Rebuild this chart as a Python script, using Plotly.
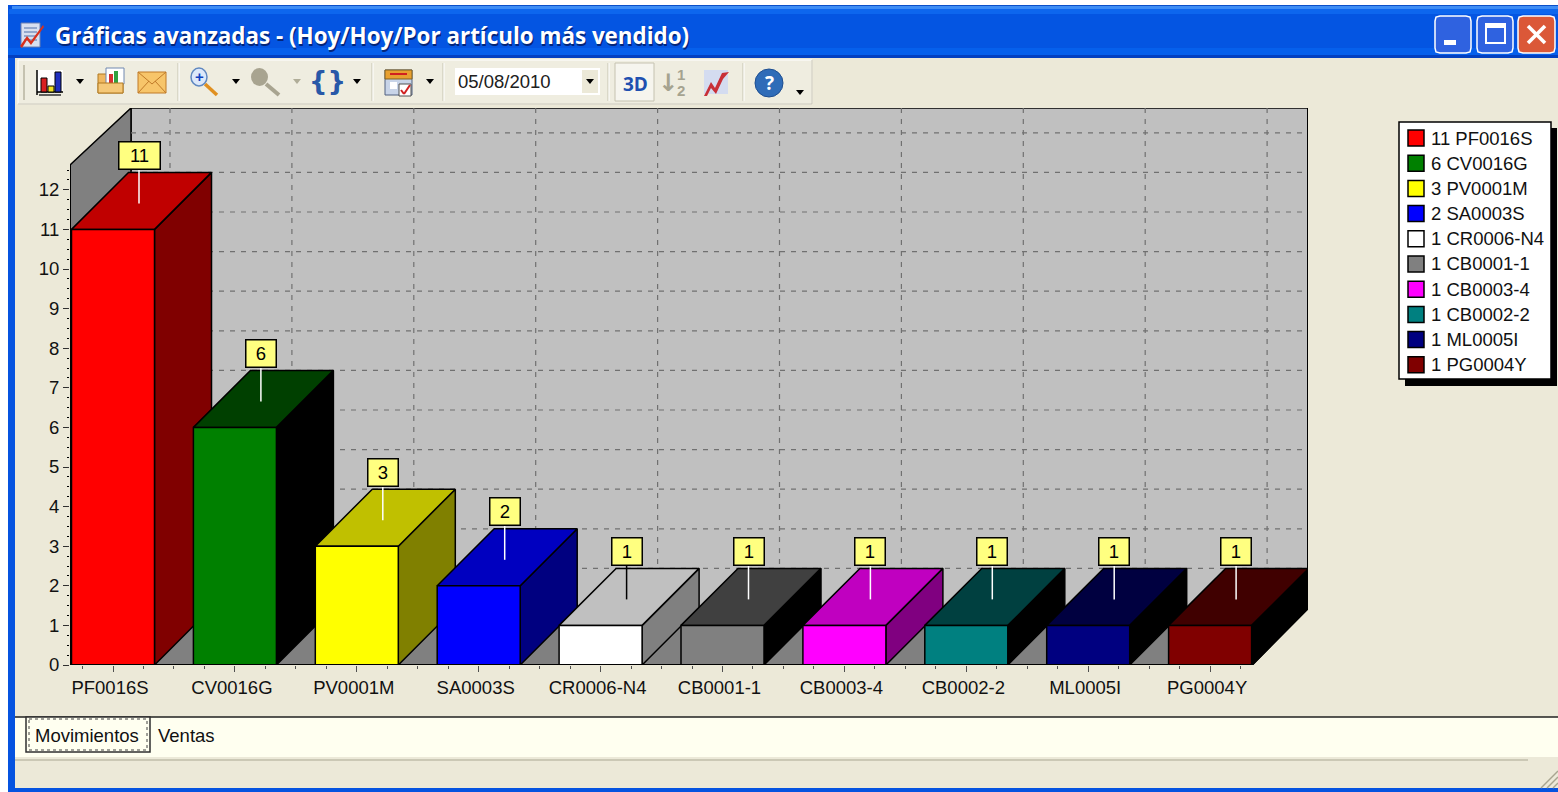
import plotly.graph_objects as go

categories = ["PF0016S", "CV0016G", "PV0001M", "SA0003S", "CR0006-N4",
              "CB0001-1", "CB0003-4", "CB0002-2", "ML0005I", "PG0004Y"]
values = [11, 6, 3, 2, 1, 1, 1, 1, 1, 1]
face_colors = ["#FF0000", "#008000", "#FFFF00", "#0000FF", "#FFFFFF",
               "#808080", "#FF00FF", "#008080", "#000080", "#800000"]
top_colors = ["#C00000", "#004000", "#C0C000", "#0000C0", "#C0C0C0",
              "#404040", "#C000C0", "#004040", "#000040", "#400000"]
side_colors = ["#800000", "#000000", "#808000", "#000080", "#808080",
               "#000000", "#800080", "#000000", "#000000", "#000000"]
y_ticks = list(range(0, 13))

W, H = 1558, 792
# chart scale
X0_PX, X1_PX = 70, 1308
Y0_PX, Y1_PX = 665, 108
X_UNIT, Y_UNIT = 121.9, 39.6
X_FIRST = 113
x_min = (X0_PX - X_FIRST) / X_UNIT
x_max = (X1_PX - X_FIRST) / X_UNIT
y_max = (Y0_PX - Y1_PX) / Y_UNIT
DX = 57 / X_UNIT
DY = 57 / Y_UNIT
WALL_DX = 61 / X_UNIT
HALF = 41.5 / X_UNIT
x_front_end = (1252 - X_FIRST) / X_UNIT
wall_top_front = (Y0_PX - 165) / Y_UNIT

FONT = "Liberation Sans"
shapes, notes = [], []


def px(x):
    return x / W


def py(y):
    return 1 - y / H


def rect(x0, y0, x1, y1, fill, line=None, lw=1, layer="below"):
    shapes.append(dict(type="rect", xref="paper", yref="paper", x0=px(x0), x1=px(x1), y0=py(y0), y1=py(y1),
                       fillcolor=fill, line=dict(color=line or "rgba(0,0,0,0)", width=lw if line else 0), layer=layer))


def seg(x0, y0, x1, y1, color, lw=1, layer="above"):
    shapes.append(dict(type="line", xref="paper", yref="paper", x0=px(x0), x1=px(x1), y0=py(y0), y1=py(y1),
                       line=dict(color=color, width=lw), layer=layer))


def circle(x0, y0, x1, y1, fill, line=None, lw=1):
    shapes.append(dict(type="circle", xref="paper", yref="paper", x0=px(x0), x1=px(x1), y0=py(y0), y1=py(y1),
                       fillcolor=fill, line=dict(color=line or "rgba(0,0,0,0)", width=lw if line else 0), layer="above"))


def poly(points, fill, line=None, lw=1):
    d = "M " + " L ".join(f"{px(a):.5f},{py(b):.5f}" for a, b in points) + " Z"
    shapes.append(dict(type="path", xref="paper", yref="paper", path=d, fillcolor=fill,
                       line=dict(color=line or "rgba(0,0,0,0)", width=lw if line else 0), layer="above"))


def arrow(x, y, color="#000000", s=4):
    poly([(x - s, y - 2), (x + s, y - 2), (x, y + 3)], color)


def text(x, y, s, size=18.5, color="#000000", anchor="left", family=FONT, bold=False):
    notes.append(dict(xref="paper", yref="paper", x=px(x), y=py(y), text=f"<b>{s}</b>" if bold else s,
                      showarrow=False, xanchor=anchor, yanchor="middle",
                      font=dict(family=family, size=size, color=color), borderpad=0))


def button(x0, y0, x1, y1, fill):
    r = 5
    pts = [(x0 + r, y0), (x1 - r, y0), (x1 - 1, y0 + 1), (x1, y0 + r), (x1, y1 - r), (x1 - 1, y1 - 1), (x1 - r, y1),
           (x0 + r, y1), (x0 + 1, y1 - 1), (x0, y1 - r), (x0, y0 + r), (x0 + 1, y0 + 1)]
    poly(pts, fill, "#FFFFFF", 1.5)


# ---- window frame
BLUE = "#0553E0"
rect(8, 5, W, 792, BLUE)
rect(15, 58, W, 788, "#ECE9D8")
strips = [(5, 6, 18, "#0A4FC8"), (6, 9, 12, "#3E8DF5"), (9, 14, 9, "#0D66EE"), (14, 48, 8, "#0455E2"),
          (48, 55, 8, "#0660EC"), (55, 58, 8, "#0340C0")]
for y0, y1, xs, c in strips:
    rect(xs, y0, W, y1, c)

# window caption
rect(21, 23, 40, 47, "#D8E0F0", "#6A7FB0")
for yy in (28, 32, 36, 40):
    seg(24, yy, 37, yy, "#5070A8", 1)
poly([(20, 46), (27, 36), (31, 41), (43, 25), (44, 27), (31, 45), (27, 40), (22, 48)], "#D8301C")
text(55, 37, "Gráficas avanzadas - (Hoy/Hoy/Por artículo más vendido)", size=22.4, color="#03257A",
     family="Open Sans", bold=True)
text(54, 36, "Gráficas avanzadas - (Hoy/Hoy/Por artículo más vendido)", size=22.4, color="#FFFFFF",
     family="Open Sans", bold=True)

button(1435, 16, 1471, 53, "#2F62E0")
rect(1444, 40, 1456, 45, "#FFFFFF", layer="above")
button(1477, 16, 1513, 53, "#2F62E0")
rect(1486, 24, 1505, 43, "rgba(0,0,0,0)", "#FFFFFF", 2, layer="above")
rect(1486, 24, 1505, 28, "#FFFFFF", layer="above")
button(1518, 16, 1555, 53, "#DB5838")
seg(1528, 26, 1545, 43, "#FFFFFF", 3.5)
seg(1545, 26, 1528, 43, "#FFFFFF", 3.5)

# ---- toolbar
rect(15, 59, W, 106, "#ECE9D8")
rect(18, 60, 812, 104, "#EFEDE0", "#FFFFFF", 1)
seg(18, 104, 812, 104, "#C5C2B0", 1, layer="below")
seg(812, 60, 812, 104, "#C5C2B0", 1, layer="below")
seg(24, 65, 24, 100, "#C5C2B0", 2)
for sx in (178, 372, 443, 608, 743):
    seg(sx, 63, sx, 101, "#C5C2B0", 1)
    seg(sx + 1, 63, sx + 1, 101, "#FFFFFF", 1)
# chart icon
rect(37, 70, 63, 92, "#FFFFFF")
seg(37, 92, 63, 92, "#000000", 1.5)
seg(37, 70, 37, 95, "#000000", 1.5)
for a, b, t, c in [(41, 47, 78, "#D82020"), (48, 54, 86, "#F0E020"), (55, 61, 72, "#2030C0")]:
    rect(a, t, b, 92, c, "#000000", 1, layer="above")
seg(39, 95, 61, 95, "#303030", 1.5)
arrow(80, 81)
# folder
rect(98, 74, 123, 93, "#F0B860", "#B07820", 1, layer="above")
rect(106, 68, 124, 84, "#FFFFFF", "#7088B0", 1, layer="above")
rect(109, 74, 113, 83, "#D83030", layer="above")
rect(114, 71, 118, 83, "#30A040", layer="above")
rect(98, 83, 123, 93, "#F5C878", "#B07820", 1, layer="above")
# envelope
rect(138, 72, 166, 93, "#F7C56A", "#C07A28", 1, layer="above")
seg(138, 72, 152, 84, "#C07A28", 1)
seg(166, 72, 152, 84, "#C07A28", 1)
seg(138, 93, 149, 81, "#C07A28", 1)
seg(166, 93, 155, 81, "#C07A28", 1)
# magnifiers
seg(205, 84, 217, 95, "#E09020", 3.5)
circle(191, 68, 207, 86, "#DCE8FA", "#6088C0", 1.5)
text(199, 77, "+", size=15, color="#1040C0", anchor="center", bold=True)
arrow(236, 81)
seg(266, 84, 279, 95, "#A8A490", 4)
circle(251, 68, 268, 86, "#A8A490")
arrow(297, 81, "#B0AD98")
text(327, 81, "{}", size=26, color="#2858A8", anchor="center", family="DejaVu Sans", bold=True)
arrow(357, 81)
# calendar
rect(385, 70, 412, 95, "#C8D4E8", "#506080", 1, layer="above")
rect(385, 70, 412, 79, "#E8A030", "#806020", 1, layer="above")
seg(390, 74, 407, 74, "#D02020", 2)
rect(390, 82, 397, 89, "#FFFFFF", layer="above")
rect(399, 84, 411, 96, "#FFFFFF", "#505050", 1, layer="above")
seg(401, 90, 404, 94, "#D02020", 2)
seg(404, 94, 410, 85, "#D02020", 2)
arrow(430, 81)
# date box
rect(455, 68, 600, 95, "#FFFFFF", layer="above")
rect(582, 70, 598, 93, "#ECE9D8", layer="above")
arrow(590, 81)
text(457, 81, "05/08/2010", size=18.5, color="#202020")
# 3D toggle
rect(615, 63, 654, 101, "#F6F5EE", "#C5C2B0", 1, layer="above")
text(635, 84, "3D", size=19, color="#2050B0", anchor="center", family="Open Sans", bold=True)
# sort icon
text(668, 83, "↓", size=24, color="#A5A390", anchor="center", family="DejaVu Sans", bold=True)
text(681, 74, "1", size=15, color="#A5A390", anchor="center", bold=True)
text(681, 90, "2", size=15, color="#A5A390", anchor="center", bold=True)
# line chart icon
rect(704, 70, 728, 94, "#D4DCF0", layer="above")
poly([(704, 96), (711, 82), (715, 88), (722, 73), (729, 72), (723, 79), (716, 94), (711, 88), (707, 96)], "#C83038")
# help
circle(755, 69, 783, 97, "#2F6CB8", "#1E4E90", 1)
text(769, 83, "?", size=19, color="#FFFFFF", anchor="center", family="Open Sans", bold=True)
arrow(800, 92)

# ---- tab strip and status bar
rect(15, 717, W, 757, "#FFFFF0")
seg(15, 717, W, 717, "#202020", 1.5, layer="below")
poly([(26, 717), (150, 717), (150, 752), (26, 752)], "#FFFFF0", "#303030", 1.5)
rect(29, 719, 147, 750, "rgba(0,0,0,0)", "#404040", 1, layer="above")
shapes[-1]["line"]["dash"] = "dot"
text(34, 735, "Movimientos", size=18.5, color="#101010")
text(157, 735, "Ventas", size=18.5, color="#101010")
rect(15, 757, W, 788, "#ECE9D8")
seg(15, 760, 1528, 760, "#C0BDAA", 1.5, layer="below")
for k in (0, 6, 12):
    seg(1541 + k, 788, W, 771 + k, "#A8A590", 1.5)

# ---- legend
rect(1405, 128, 1557, 386, "#000000", layer="above")
rect(1399, 122, 1551, 379, "#FFFFFF", "#000000", 1.5, layer="above")
for i, (c, v, col) in enumerate(zip(categories, values, face_colors)):
    yc = 138 + i * 25.2
    rect(1408, yc - 8, 1424, yc + 8, col, "#000000", 1.5, layer="above")
    text(1430, yc, f"{v} {c}", size=18.5, color="#111111")

# ---- chart traces
traces = []


def fill_trace(xs, ys, color, line="#000000", lw=1.5):
    traces.append(go.Scatter(x=xs, y=ys, mode="lines", fill="toself", fillcolor=color,
                             line=dict(color=line, width=lw), hoverinfo="skip", showlegend=False))


def line_trace(xs, ys, color, lw=1.5, dash="solid"):
    traces.append(go.Scatter(x=xs, y=ys, mode="lines", line=dict(color=color, width=lw, dash=dash),
                             hoverinfo="skip", showlegend=False, connectgaps=False))


wx0, wx1 = x_min + WALL_DX, x_max
wy0, wy1 = DY, y_max
fill_trace([wx0, wx1, wx1, wx0, wx0], [wy0, wy0, wy1, wy1, wy0], "#C0C0C0")
fill_trace([x_min, wx0, wx0, x_min, x_min], [0, wy0, wy1, wall_top_front, 0], "#808080")
fill_trace([x_min, x_front_end, wx1, wx0, x_min], [0, 0, wy0, wy0, 0], "#808080")

gx, gy = [], []
for t in y_ticks:
    gx += [wx0, wx1, None]
    gy += [t + DY, t + DY, None]
for i in range(len(categories)):
    gx += [i + DX, i + DX, None]
    gy += [wy0, wy1, None]
line_trace(gx, gy, "#707070", 1.2, "5px,6px")

for i, v in enumerate(values):
    l, r = i - HALF, i + HALF
    fill_trace([r, r + DX, r + DX, r, r], [0, DY, v + DY, v, 0], side_colors[i])
    fill_trace([l, r, r + DX, l + DX, l], [v, v, v + DY, v + DY, v], top_colors[i])
    fill_trace([l, r, r, l, l], [0, 0, v, v, 0], face_colors[i])

line_trace([x_min, x_min], [0, wall_top_front], "#000000", 2)
line_trace([x_min, x_front_end], [0, 0], "#000000", 2)
line_trace([x_front_end, wx1, wx1], [0, wy0, wy1], "#000000", 2)

LABEL_X = 26 / X_UNIT
for i, v in enumerate(values):
    leader = "#000000" if face_colors[i] == "#FFFFFF" else "#FFFFFF"
    line_trace([i + LABEL_X, i + LABEL_X], [v + 26 / Y_UNIT, v + 60 / Y_UNIT], leader, 1.5)
    notes.append(dict(xref="x", yref="y", x=i + LABEL_X, y=v + 74 / Y_UNIT, text=str(v), showarrow=False,
                      xanchor="center", yanchor="middle", width=40 if v > 9 else 29, height=26,
                      bgcolor="#FFFF80", bordercolor="#000000", borderwidth=1.5, borderpad=0,
                      font=dict(family=FONT, size=18.5, color="#000000")))

fig = go.Figure(traces)
fig.update_layout(
    width=W, height=H, margin=dict(l=0, r=0, t=0, b=0, pad=0), autosize=False,
    paper_bgcolor="#FFFFFF", plot_bgcolor="rgba(0,0,0,0)", showlegend=False, hovermode=False,
    shapes=shapes, annotations=notes,
    xaxis=dict(domain=[X0_PX / W, X1_PX / W], range=[x_min, x_max], tickmode="array", automargin=False,
               tickvals=list(range(len(categories))), ticktext=categories, ticks="outside", ticklen=6, tickwidth=1,
               tickcolor="#505050", tickfont=dict(family=FONT, size=18.5, color="#111111"), tickangle=0,
               ticklabelshift=-3, showgrid=False, zeroline=False, showline=False,
               minor=dict(tickmode="array", tickvals=[k * 0.25 for k in range(-1, 38) if k % 4], ticks="outside",
                          ticklen=3, tickcolor="#505050", showgrid=False)),
    yaxis=dict(domain=[1 - Y0_PX / H, 1 - Y1_PX / H], range=[0, y_max], tickmode="array", automargin=False,
               tickvals=y_ticks, ticks="outside", ticklen=6, tickwidth=1, tickcolor="#303030",
               tickfont=dict(family=FONT, size=18.5, color="#111111"),
               showgrid=False, zeroline=False, showline=False,
               minor=dict(tickmode="array", tickvals=[k * 0.25 for k in range(1, 51) if k % 4], ticks="outside",
                          ticklen=2, tickcolor="#000000", showgrid=False)),
)
fig.write_html("out.html", config={"displayModeBar": False, "staticPlot": True},
               post_script="document.body.style.margin='0';document.body.style.overflow='hidden';")
